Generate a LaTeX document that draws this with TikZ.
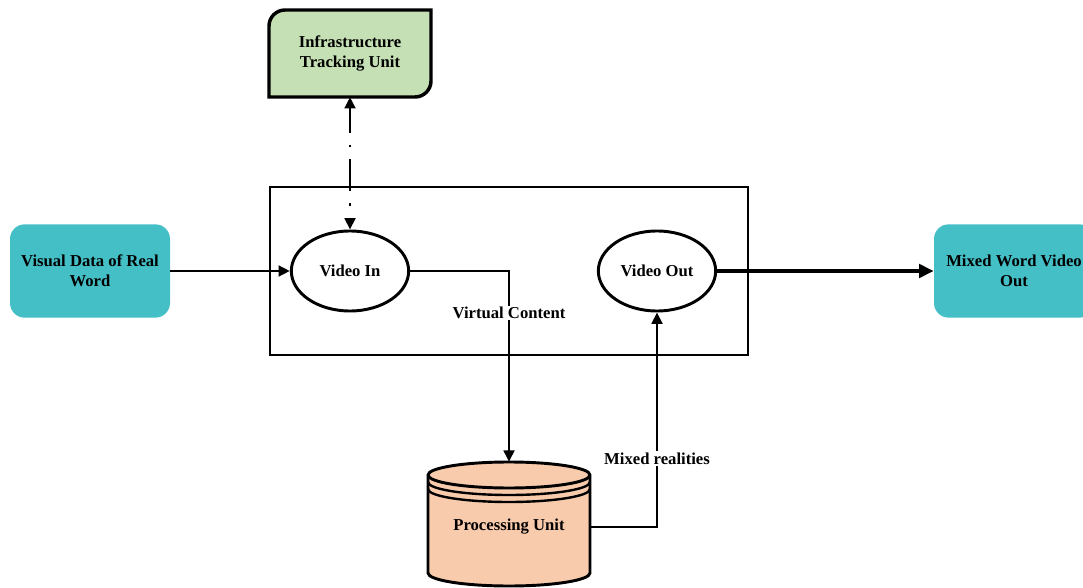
\documentclass[tikz,border=0pt]{standalone}
\usepackage{fontspec}
\setmainfont{Liberation Serif}
\usepackage{tikz}
\usetikzlibrary{positioning, shapes.geometric, arrows.meta}

\definecolor{iocyan}{RGB}{68,191,198}
\definecolor{trackgreen}{RGB}{197,224,180}
\definecolor{procpeach}{RGB}{248,203,173}

\begin{document}
\begin{tikzpicture}[x=0.75pt, y=0.75pt,
    every node/.style={font=\bfseries\fontsize{12.5}{15}\selectfont},
    iobox/.style={rectangle, fill=iocyan, rounded corners=11pt, minimum width=120pt, minimum height=70pt, align=center},
    vid/.style={ellipse, draw, line width=2.2pt, minimum width=88pt, minimum height=60pt},
    link/.style={-{Triangle[length=8.5pt, width=8pt]}, line width=2pt}]
    \useasboundingbox (0,0) rectangle (1083,587);
    % main block with the two video ports
    \node[rectangle, draw, line width=2.2pt, minimum width=358.5pt, minimum height=126pt](frame) at (509,316){};
    \node[vid](vin) at (350,316){Video In};
    \node[vid](vout) at (657,316){Video Out};
    % inputs / outputs
    \node[iobox](visual) at (90,316){Visual Data of Real\\Word};
    \node[iobox](mixed) at (1014,316){Mixed Word Video\\Out};
    % tracking unit, only two corners rounded
    \path[draw, line width=2.6pt, fill=trackgreen] (269,490) -- (269,561)
        arc[start angle=180, end angle=90, radius=16] -- (431,577)
        -- (431,506) arc[start angle=0, end angle=-90, radius=16] -- cycle;
    \node[rectangle, minimum width=121.5pt, minimum height=65pt, align=center](infra) at (350,533.5){Infrastructure\\Tracking Unit};
    % processing unit (drum)
    \draw[line width=2.2pt, fill=procpeach] (428,112) -- (428,14)
        arc[start angle=180, end angle=360, x radius=81, y radius=13] -- (590,112)
        arc[start angle=0, end angle=180, x radius=81, y radius=13] -- cycle;
    \draw[line width=2.2pt] (428,112) arc[start angle=180, end angle=360, x radius=81, y radius=13];
    \draw[line width=1.8pt] (428,105) arc[start angle=180, end angle=360, x radius=81, y radius=13];
    \draw[line width=1.8pt] (428,98) arc[start angle=180, end angle=360, x radius=81, y radius=13];
    \node[rectangle, minimum width=121.5pt, minimum height=97.5pt](proc) at (509,60){Processing Unit};
    % Arrows
    \draw[link] (visual) -- (vin);
    \draw[-{Triangle[length=11pt, width=10pt]}, line width=3.2pt] (vout.east) -- (vout.east -| mixed.west);
    \draw[link, {Triangle[length=8.5pt, width=8pt]}-{Triangle[length=8.5pt, width=8pt]},
        dash pattern=on 24pt off 9pt on 1.8pt off 9pt, dash phase=5.25pt] (infra.south) -- (vin.north);
    \draw[link] (vin.east) -| node[pos=0.61, fill=white, inner sep=1pt]{Virtual Content} (proc.north);
    \draw[link] (proc.east) -| node[pos=0.66, fill=white, inner sep=1pt]{Mixed realities} (vout.south);
\end{tikzpicture}
\end{document}
